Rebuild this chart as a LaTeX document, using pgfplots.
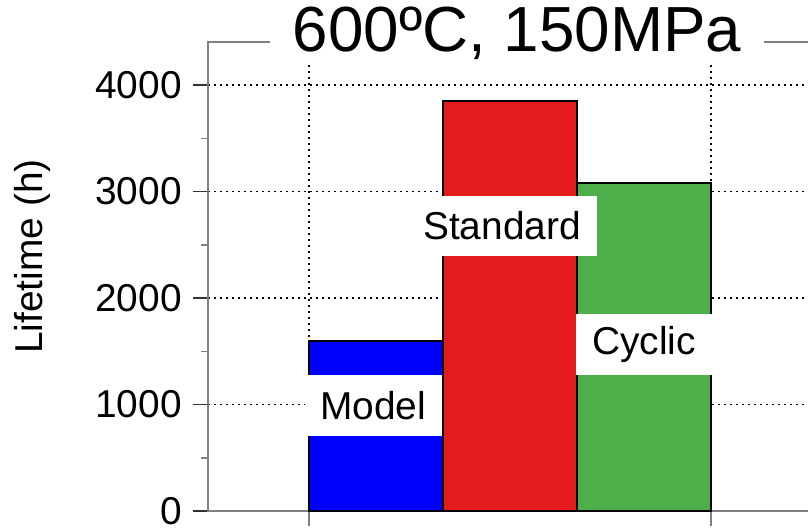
\documentclass[border=0pt]{standalone}
\usepackage{fontspec}
\setmainfont{Liberation Sans}
\usepackage{pgfplots}
\pgfplotsset{compat=1.18}
\definecolor{cblue}{HTML}{0000FF}
\definecolor{cred}{HTML}{E41A1C}
\definecolor{cgreen}{HTML}{4DAF4A}
\definecolor{axgray}{HTML}{808080}
\begin{document}
\begin{tikzpicture}
\begin{axis}[
  at={(0,0)}, anchor=south west,
  scale only axis,
  width=603.5bp, height=469bp,
  xmin=-0.2537, xmax=4.25,
  ymin=0, ymax=4404,
  axis line style={draw=axgray, line width=1.8bp},
  xtick={0.5,3.5}, xticklabels={},
  ytick={0,1000,2000,3000,4000},
  minor ytick={500,1500,2500,3500},
  tick align=outside,
  xtick pos=bottom, ytick pos=left,
  major tick length=15bp, minor tick length=7bp,
  every tick/.style={line width=1.5bp},
  x tick style={draw=axgray, line width=1.5bp},
  y tick style={draw=black!80},
  minor y tick style={draw=axgray},
  ymajorgrids, xmajorgrids,
  grid style={draw=black, line width=1.2bp, dash pattern=on 2bp off 4bp},
  /pgf/number format/assume math mode=true,
  scaled y ticks=false,
  yticklabel={\pgfmathprintnumber[fixed,1000 sep={}]{\tick}},
  yticklabel style={font=\fontsize{39}{44}\selectfont, anchor=east, inner sep=0pt, xshift=-11bp},
  ylabel={Lifetime (h)},
  ylabel style={font=\fontsize{39}{44}\selectfont, at={(axis description cs:-0.2734,0.5426)}, anchor=base, rotate=0},
  title={600ºC, 150MPa},
  title style={font=\fontsize{64}{70}\selectfont, at={(axis description cs:0.512,0.968)}, anchor=base, fill=white, inner xsep=23bp, inner ysep=6bp},
  clip=false,
]
\addplot[ybar, bar width=1, bar shift=0pt, fill=cblue, draw=black, line width=1.3bp] coordinates {(1,1596)};
\addplot[ybar, bar width=1, bar shift=0pt, fill=cred, draw=black, line width=1.3bp] coordinates {(2,3850)};
\addplot[ybar, bar width=1, bar shift=0pt, fill=cgreen, draw=black, line width=1.3bp] coordinates {(3,3080)};
\node[fill=white, minimum width=137bp, minimum height=61bp, inner sep=0pt, font=\fontsize{39}{44}\selectfont] at (axis cs:0.978,990) {Model};
\node[fill=white, minimum width=190bp, minimum height=60bp, inner sep=0pt, font=\fontsize{39}{44}\selectfont] at (axis cs:1.94,2676) {Standard};
\node[fill=white, minimum width=135bp, minimum height=61bp, inner sep=0pt, font=\fontsize{39}{44}\selectfont] at (axis cs:3.0,1563) {Cyclic};
\end{axis}
\pgfresetboundingbox
\useasboundingbox (-208bp,-17bp) rectangle (600bp,511bp);
\end{tikzpicture}
\end{document}
